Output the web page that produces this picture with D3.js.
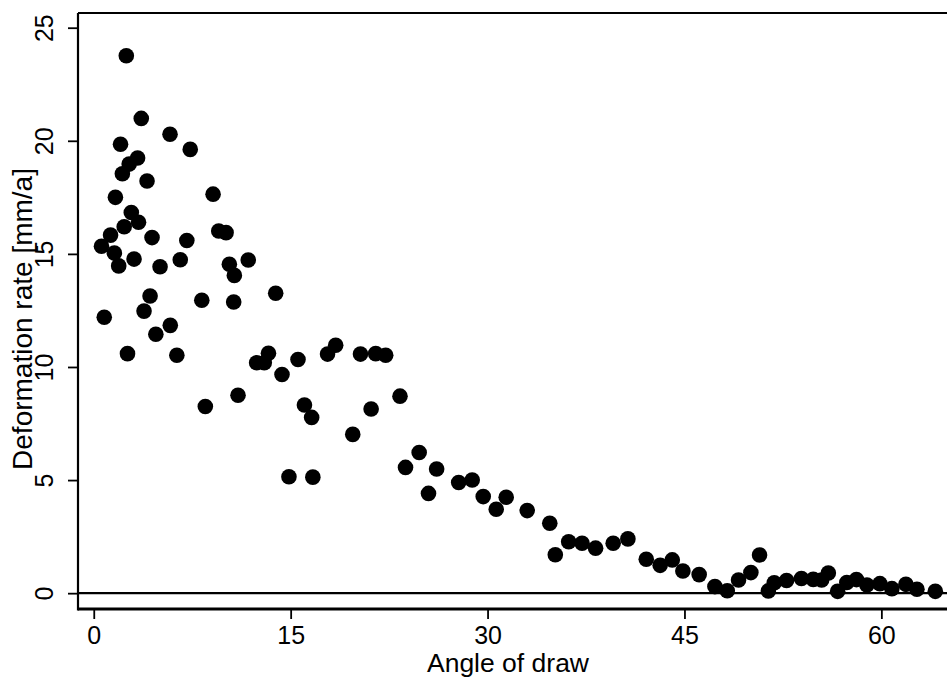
<!DOCTYPE html>
<html>
<head>
<meta charset="utf-8">
<script src="https://cdn.jsdelivr.net/npm/d3@7"></script>
<style>
  html, body { margin: 0; padding: 0; background: #fff; }
  svg { display: block; }
  text { font-family: Arial, "Liberation Sans", Helvetica, sans-serif; fill: #000; }
</style>
</head>
<body>
<svg id="chart" width="947" height="677"></svg>
<script>
// Angle of draw (x) and deformation rate in mm/a (y)
const angle = [
  0.59, 0.80, 1.28, 1.57, 1.65, 1.90, 2.04, 2.18, 2.32, 2.48,
  2.57, 2.70, 2.86, 3.07, 3.34, 3.41, 3.62, 3.83, 4.06, 4.29,
  4.44, 4.73, 5.05, 5.81, 5.83, 6.33, 6.59, 7.09, 7.35, 8.23,
  8.50, 9.09, 9.52, 10.08, 10.33, 10.71, 10.66, 10.99, 11.77, 12.41,
  12.99, 13.31, 13.86, 14.34, 14.87, 15.56, 16.05, 16.60, 16.69, 17.81,
  18.43, 19.73, 20.32, 21.13, 21.48, 22.24, 23.33, 23.75, 24.79, 25.50,
  26.12, 27.80, 28.83, 29.67, 30.66, 31.42, 33.02, 34.74, 35.16, 36.18,
  37.20, 38.23, 39.57, 40.69, 42.09, 43.15, 44.07, 44.88, 46.12, 47.32,
  48.26, 49.12, 50.06, 50.72, 51.39, 51.84, 52.78, 53.91, 54.81, 55.45,
  55.96, 56.67, 57.37, 58.10, 58.90, 59.89, 60.80, 61.87, 62.71, 64.11
];
const rate = [
  15.34, 12.20, 15.83, 15.04, 17.50, 14.47, 19.85, 18.54, 16.20, 23.76,
  10.59, 18.97, 16.83, 14.77, 19.24, 16.40, 20.99, 12.47, 18.22, 13.14,
  15.72, 11.45, 14.43, 20.29, 11.84, 10.52, 14.74, 15.59, 19.62, 12.95,
  8.25, 17.64, 16.01, 15.94, 14.54, 14.05, 12.87, 8.75, 14.73, 10.19,
  10.19, 10.61, 13.26, 9.67, 5.15, 10.33, 8.32, 7.77, 5.13, 10.57,
  10.96, 7.02, 10.57, 8.14, 10.59, 10.52, 8.71, 5.56, 6.22, 4.41,
  5.49, 4.89, 5.00, 4.27, 3.71, 4.24, 3.65, 3.09, 1.70, 2.27,
  2.21, 1.99, 2.21, 2.40, 1.50, 1.23, 1.47, 0.98, 0.82, 0.29,
  0.11, 0.58, 0.91, 1.69, 0.10, 0.46, 0.56, 0.65, 0.61, 0.58,
  0.89, 0.08, 0.47, 0.60, 0.36, 0.42, 0.20, 0.39, 0.17, 0.08
];
const xTicks = [0, 15, 30, 45, 60];
const yTicks = [0, 5, 10, 15, 20, 25];
const xTitle = "Angle of draw";
const yTitle = "Deformation rate [mm/a]";

const svg = d3.select("#chart");
const pLeft = 78, pRight = 947, pTop = 13, pBottom = 609;

const x = d3.scaleLinear().domain([-1.2, 65]).range([pLeft, pRight]);
const y = d3.scaleLinear().domain([-0.7, 25.65]).range([pBottom, pTop]);

// frame lines (left, top)
svg.append("line").attr("x1", pLeft).attr("x2", pLeft).attr("y1", pTop).attr("y2", pBottom + 1.5)
  .attr("stroke", "#000").attr("stroke-width", 2.2);
svg.append("line").attr("x1", pLeft).attr("x2", pRight).attr("y1", pTop).attr("y2", pTop)
  .attr("stroke", "#000").attr("stroke-width", 2.2);

// zero reference line
svg.append("line").attr("x1", pLeft).attr("x2", pRight).attr("y1", y(0)).attr("y2", y(0))
  .attr("stroke", "#000").attr("stroke-width", 2.4);

// x axis
const xAxis = svg.append("g").attr("transform", `translate(0,${pBottom})`)
  .call(d3.axisBottom(x).tickValues(xTicks).tickSize(10).tickPadding(7).tickFormat(d3.format("d")));
xAxis.select(".domain").attr("stroke-width", 3).attr("d", `M${pLeft},0H${pRight}`);
xAxis.selectAll(".tick line").attr("stroke-width", 1.8);
xAxis.selectAll(".tick text").attr("font-size", 25).style("font-family", "Arial, 'Liberation Sans', sans-serif");

// y axis
const yAxis = svg.append("g").attr("transform", `translate(${pLeft},0)`)
  .call(d3.axisLeft(y).tickValues(yTicks).tickSize(10).tickFormat(d3.format("d")));
yAxis.select(".domain").remove();
yAxis.selectAll(".tick line").attr("stroke-width", 1.8);
yAxis.selectAll(".tick text")
  .attr("font-size", 25)
  .style("font-family", "Arial, 'Liberation Sans', sans-serif")
  .attr("text-anchor", "middle")
  .attr("x", null).attr("dy", null)
  .attr("transform", "translate(-25,0) rotate(-90)");

// titles
svg.append("text").attr("x", 508).attr("y", 672)
  .attr("text-anchor", "middle").attr("font-size", 26.5).text(xTitle);
svg.append("text").attr("transform", `translate(32,319) rotate(-90)`)
  .attr("text-anchor", "middle").attr("font-size", 28).text(yTitle);

// points
svg.append("g").selectAll("circle")
  .data(angle.map((a, i) => [a, rate[i]]))
  .join("circle")
  .attr("cx", d => x(d[0]))
  .attr("cy", d => y(d[1]))
  .attr("r", 7.8)
  .attr("fill", "#000");
</script>
</body>
</html>
